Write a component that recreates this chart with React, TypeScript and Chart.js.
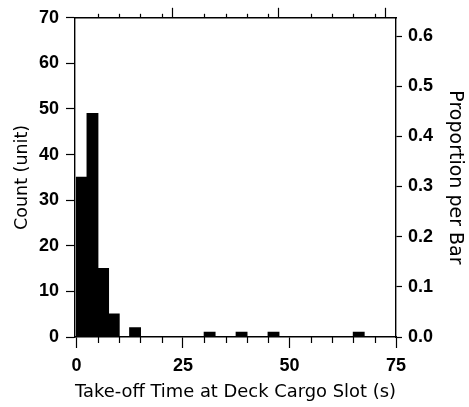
import React, { useEffect, useRef } from 'react';
import { Chart, registerables } from 'chart.js';

Chart.register(...registerables);

// ---- data ----
const binStarts = [0, 2.5, 5, 7.5, 12.5, 30, 37.5, 45, 65];
const binWidth = 2.5;
const counts = [35, 49, 15, 5, 2, 1, 1, 1, 1];
const countTicksMax = 70;
const countStep = 10;
const xMin = -0.35;
const xMax = 75;
const xMinorStep = 5;
const xMajorStep = 25;
const propStep = 0.1;

const xTitle = 'Take-off Time at Deck Cargo Slot (s)';
const yTitle = 'Count (unit)';
const y2Title = 'Proportion per Bar';

const W = 469;
const H = 407;

const tickFont = { family: 'Liberation Sans, Arial, sans-serif', size: 18, weight: 'bold' as const };

const minorTicksPlugin = {
  id: 'minorTicks',
  afterDraw(chart: any) {
    const { ctx, chartArea } = chart;
    ctx.save();
    ctx.strokeStyle = '#000';
    ctx.lineWidth = 1.2;
    const defs: [string, number, number, number][] = [
      ['x', chartArea.bottom, 1, 6],
      ['x2', chartArea.top, -1, 4],
    ];
    for (const [id, y, dir, len] of defs) {
      const s = chart.scales[id];
      if (!s) continue;
      s.ticks.forEach((t: any) => {
        if (Math.abs(t.value % xMajorStep) > 1e-9) {
          const px = Math.round(s.getPixelForValue(t.value)) + 0.5;
          ctx.beginPath();
          ctx.moveTo(px, y);
          ctx.lineTo(px, y + dir * len);
          ctx.stroke();
        }
      });
    }
    ctx.restore();
  },
};

const majorColor = (c: any) =>
  c.tick && Math.abs(c.tick.value % xMajorStep) < 1e-9 ? '#000' : 'rgba(0,0,0,0)';

export default function App() {
  const ref = useRef<HTMLCanvasElement>(null);

  useEffect(() => {
    const total = counts.reduce((a, b) => a + b, 0);
    const data = binStarts.map((s, i) => ({ x: s + binWidth / 2, y: counts[i] }));
    const chart = new Chart(ref.current as HTMLCanvasElement, {
      type: 'bar',
      data: {
        datasets: [
          {
            data: data as any,
            backgroundColor: '#000',
            borderColor: '#000',
            borderWidth: 0,
            inflateAmount: 0.6,
            barPercentage: 1,
            categoryPercentage: 1,
            xAxisID: 'x',
            yAxisID: 'y',
          },
        ],
      },
      plugins: [minorTicksPlugin],
      options: {
        responsive: false,
        animation: false,
        devicePixelRatio: 1,
        layout: { padding: 0 },
        plugins: { legend: { display: false }, tooltip: { enabled: false } },
        scales: {
          x: {
            type: 'linear',
            axis: 'x',
            position: 'bottom',
            min: xMin,
            max: xMax,
            offset: false,
            afterFit: (s: any) => { s.height = 70; },
            border: { display: true, color: '#000', width: 1.4 },
            grid: {
              drawOnChartArea: false,
              drawTicks: true,
              tickLength: 11,
              tickWidth: 1.2,
              tickColor: majorColor,
              offset: false,
            },
            ticks: {
              stepSize: xMinorStep,
              includeBounds: false,
              autoSkip: false,
              maxRotation: 0,
              padding: 7,
              color: '#000',
              font: tickFont,
              callback: (v: any) => (Math.abs(Number(v) % xMajorStep) < 1e-9 ? String(v) : ''),
            },
            title: {
              display: true,
              text: xTitle,
              color: '#000',
              font: { family: 'DejaVu Sans', size: 18, weight: 'normal' },
              padding: { top: 0, bottom: 4 },
            },
          },
          x2: {
            type: 'linear',
            axis: 'x',
            position: 'top',
            min: xMin,
            max: xMax,
            offset: false,
            afterFit: (s: any) => { s.height = 15; },
            border: { display: true, color: '#000', width: 1.4 },
            grid: {
              drawOnChartArea: false,
              drawTicks: true,
              tickLength: 10,
              tickWidth: 1.2,
              tickColor: majorColor,
            },
            ticks: { stepSize: xMinorStep, includeBounds: false, display: false, autoSkip: false },
          },
          y: {
            type: 'linear',
            axis: 'y',
            position: 'left',
            min: 0,
            max: countTicksMax,
            afterFit: (s: any) => { s.width = 75; },
            border: { display: true, color: '#000', width: 1.4 },
            grid: { drawOnChartArea: false, drawTicks: true, tickLength: 9, tickWidth: 1.2, tickColor: '#000' },
            ticks: { stepSize: countStep, padding: 7, color: '#000', font: tickFont },
            title: {
              display: true,
              text: yTitle,
              color: '#000',
              font: { family: 'DejaVu Sans', size: 17.5, weight: 'normal' },
              padding: { top: 12, bottom: 0 },
            },
          },
          y2: {
            type: 'linear',
            axis: 'y',
            position: 'right',
            min: 0,
            max: countTicksMax / total,
            afterFit: (s: any) => { s.width = 73; },
            border: { display: true, color: '#000', width: 1.4 },
            grid: { drawOnChartArea: false, drawTicks: true, tickLength: 6, tickWidth: 1.2, tickColor: '#000' },
            ticks: {
              stepSize: propStep,
              includeBounds: false,
              padding: 6,
              color: '#000',
              font: tickFont,
              callback: (v: any) => Number(v).toFixed(1),
            },
            title: {
              display: true,
              text: y2Title,
              color: '#000',
              font: { family: 'DejaVu Sans', size: 19, weight: 'normal' },
              padding: { top: 3, bottom: 0 },
            },
          },
        },
      } as any,
    });
    return () => chart.destroy();
  }, []);

  return (
    <div style={{ position: 'absolute', left: 0, top: 0, width: W, height: H, background: '#fff' }}>
      <canvas ref={ref} width={W} height={H} style={{ display: 'block' }} />
    </div>
  );
}
